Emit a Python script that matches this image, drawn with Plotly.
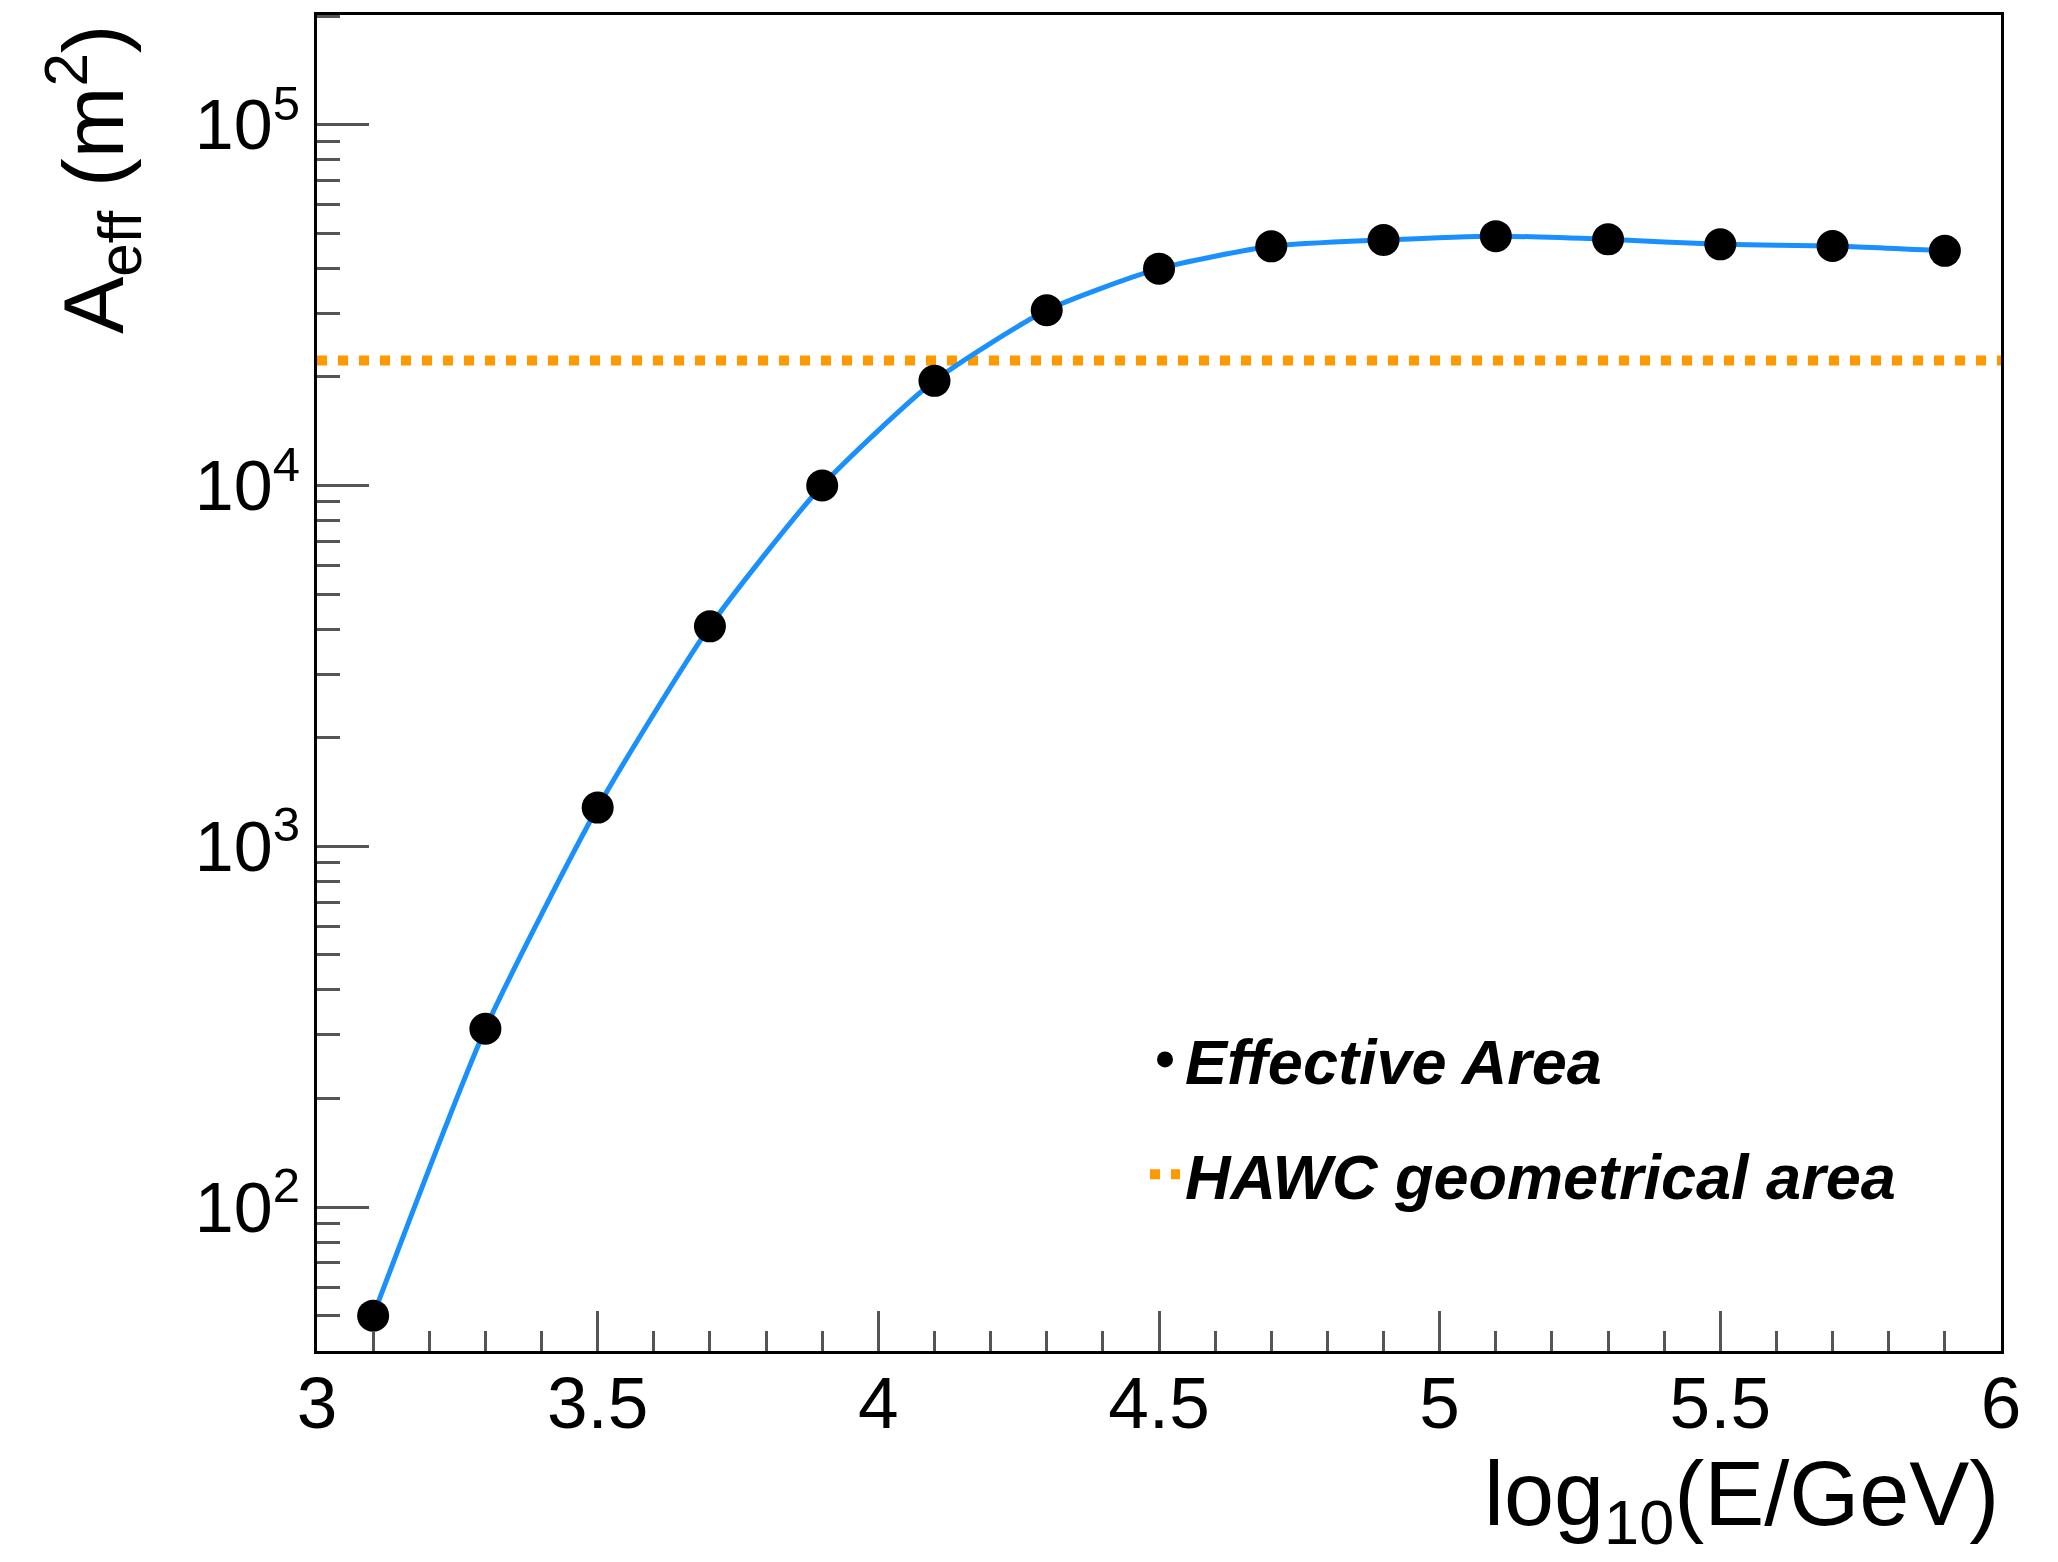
import plotly.graph_objects as go

# ---- data ----
log_energy = [3.1, 3.3, 3.5, 3.7, 3.9, 4.1, 4.3, 4.5, 4.7, 4.9, 5.1, 5.3, 5.5, 5.7, 5.9]
eff_area = [50, 312, 1280, 4070, 10000, 19500, 30600, 39900, 46000, 47900, 49100, 48100, 46600, 46100, 44700]
geo_x = [3.0, 6.0]
geo_area = 22200

x_tickvals = [3, 3.5, 4, 4.5, 5, 5.5, 6]
x_ticktext = ["3", "3.5", "4", "4.5", "5", "5.5", "6"]
y_tickvals = [1e2, 1e3, 1e4, 1e5]
y_ticktext = ["10<sup>2</sup>", "10<sup>3</sup>", "10<sup>4</sup>", "10<sup>5</sup>"]
y_minor = [m * 10 ** k for k in range(1, 6) for m in range(2, 10)]

FONT = "Liberation Sans, Arial, Helvetica, sans-serif"

fig = go.Figure()

fig.add_trace(go.Scatter(
    x=geo_x, y=[geo_area] * len(geo_x), mode="lines",
    line=dict(color="#ff9900", width=10, dash="10px,11px"),
    name="HAWC geometrical area", legendgroup="b", legendrank=2,
))
fig.add_trace(go.Scatter(
    x=log_energy, y=eff_area, mode="lines",
    line=dict(color="#1a90ff", width=5, shape="spline", smoothing=0.6),
    showlegend=False, hoverinfo="skip",
))
fig.add_trace(go.Scatter(
    x=log_energy, y=eff_area, mode="markers",
    marker=dict(color="black", size=32, symbol="circle"),
    name="Effective Area", legendgroup="a", legendrank=1,
))

fig.update_layout(
    width=2058, height=1562,
    margin=dict(l=317, r=57, t=15, b=211),
    paper_bgcolor="white", plot_bgcolor="white",
    font=dict(family=FONT, color="black"),
    showlegend=True,
    legend=dict(
        x=(1145 - 317) / 1684, y=(1351 - 1012) / 1336,
        xanchor="left", yanchor="top",
        bgcolor="rgba(0,0,0,0)",
        font=dict(family=FONT, size=63, color="black", weight="bold", style="italic"),
        tracegroupgap=30, itemsizing="trace",
    ),
    xaxis=dict(
        range=[3, 6], tickvals=x_tickvals, ticktext=x_ticktext,
        ticks="inside", ticklen=40, tickwidth=3, tickcolor="#555",
        showline=True, linecolor="black", linewidth=3, mirror=True,
        showgrid=False, zeroline=False,
        tickfont=dict(family=FONT, size=73, color="black"),
        ticklabelstandoff=-14,
        minor=dict(dtick=0.1, tick0=3, ticks="inside", ticklen=20, tickwidth=3, tickcolor="#555", showgrid=False),
    ),
    yaxis=dict(
        type="log", range=[1.601, 5.304],
        tickvals=y_tickvals, ticktext=y_ticktext,
        ticks="inside", ticklen=52, tickwidth=3, tickcolor="#555",
        showline=True, linecolor="black", linewidth=3, mirror=True,
        showgrid=False, zeroline=False,
        tickfont=dict(family=FONT, size=70, color="black"),
        minor=dict(tickmode="array", tickvals=y_minor, ticks="inside", ticklen=23, tickwidth=3, tickcolor="#555", showgrid=False),
    ),
    annotations=[
        dict(text="log<sub>10</sub>(E/GeV)", xref="paper", yref="paper",
             x=1, y=(1351 - 1442) / 1336, xanchor="right", yanchor="top",
             showarrow=False, font=dict(family=FONT, size=90, color="black")),
        dict(text="A<sub>eff</sub> (m<sup>2</sup>)", xref="paper", yref="paper",
             x=(93 - 317) / 1684, y=(1351 - 22) / 1336, xanchor="center", yanchor="top",
             textangle=-90, showarrow=False, font=dict(family=FONT, size=86, color="black")),
    ],
)

fig.write_html("out.html")
